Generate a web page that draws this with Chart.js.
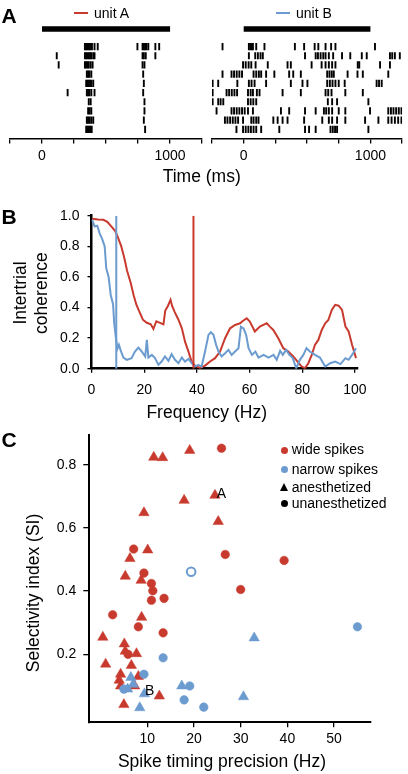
<!DOCTYPE html>
<html>
<head>
<meta charset="utf-8">
<style>
  html, body { margin: 0; padding: 0; background: #fff; }
  #fig { position: relative; width: 408px; height: 774px; overflow: hidden;
         font-family: "Liberation Sans", Arial, sans-serif; color: #000; }
  #fig canvas { position: absolute; }
  .t { position: absolute; line-height: 1; white-space: nowrap; }
  .panel { font-weight: bold; font-size: 21px; }
  .rot { position: absolute; transform: rotate(-90deg); text-align: center; white-space: nowrap; }
  .mk { position: absolute; }
</style>
<script src="https://cdn.jsdelivr.net/npm/chart.js"></script>
</head>
<body>
<div id="fig">
  <canvas id="rasterA" width="208" height="170" style="left:0;top:0"></canvas>
  <canvas id="rasterB" width="204" height="170" style="left:204px;top:0"></canvas>
  <canvas id="cohChart" width="408" height="225" style="left:0;top:195px"></canvas>
  <canvas id="selChart" width="408" height="354" style="left:0;top:420px"></canvas>

  <div class="t panel" style="left:1.5px;top:5px">A</div>
  <div class="t panel" style="left:1.5px;top:205.5px">B</div>
  <div class="t panel" style="left:1.5px;top:429px">C</div>

  <div class="mk" style="left:74px;top:12.2px;width:14px;height:2px;background:#c93a2e"></div>
  <div class="t" style="left:94px;top:6px;font-size:14px">unit A</div>
  <div class="mk" style="left:276px;top:12.2px;width:14px;height:2px;background:#6b9bcf"></div>
  <div class="t" style="left:296px;top:6px;font-size:14px">unit B</div>
  <div class="t" style="left:162.7px;top:168.4px;font-size:17.5px">Time (ms)</div>

  <div class="rot" style="left:-49px;top:272px;width:160px;height:42px;line-height:21px;font-size:17.5px">Intertrial<br>coherence</div>
  <div class="t" style="left:106.7px;top:404.4px;width:200px;text-align:center;font-size:17.5px">Frequency (Hz)</div>

  <div class="rot" style="left:-77px;top:582.5px;width:220px;height:20px;line-height:20px;font-size:17.5px">Selectivity index (SI)</div>
  <div class="t" style="left:102px;top:752.7px;width:240px;text-align:center;font-size:17.5px">Spike timing precision (Hz)</div>

  <div class="mk" style="left:280.8px;top:446.5px;width:7px;height:7px;border-radius:50%;background:#c93a2e"></div>
  <div class="t" style="left:291.7px;top:442.4px;font-size:14px">wide spikes</div>
  <div class="mk" style="left:280.8px;top:466.2px;width:7px;height:7px;border-radius:50%;background:#6b9bcf"></div>
  <div class="t" style="left:291.7px;top:462.2px;font-size:14px">narrow spikes</div>
  <div class="mk" style="left:279.8px;top:482.5px;width:0;height:0;border-left:4.5px solid transparent;border-right:4.5px solid transparent;border-bottom:8px solid #000"></div>
  <div class="t" style="left:291.7px;top:479.9px;font-size:14px">anesthetized</div>
  <div class="mk" style="left:280.8px;top:499.5px;width:7px;height:7px;border-radius:50%;background:#000"></div>
  <div class="t" style="left:291.7px;top:495.5px;font-size:14px">unanesthetized</div>

  <div class="t" style="left:216.7px;top:485.9px;font-size:14px">A</div>
  <div class="t" style="left:145px;top:682.5px;font-size:14px">B</div>
</div>

<script>
  // colours
  var RED = '#c93a2e';
  var BLUE = '#6b9bcf';

  // ---- A: spike rasters (spike times in ms, one list per trial)
  var unitATrials = [
    [335, 345, 355, 365, 375, 390, 410, 435, 745, 785, 795, 805, 815, 830, 885, 915],
    [115, 335, 345, 355, 365, 375, 385, 400, 410, 785, 795, 810, 885],
    [130, 335, 345, 355, 365, 380, 395, 785, 800],
    [350, 360, 370, 385, 790],
    [345, 355, 365, 375, 385, 400, 795],
    [200, 350, 360, 370, 385, 410, 790],
    [365, 380, 800],
    [360, 372, 385, 800],
    [350, 360, 372, 385, 400, 795],
    [345, 355, 365, 375, 388, 805]
  ];
  var unitBTrials = [
    [-167, 41, 52, 63, 73, 99, 164, 404, 477, 560, 589, 646, 690, 724, 1036],
    [41, 91, 112, 133, 151, 484, 568, 586, 607, 628, 646, 672, 706, 776, 841, 932, 971, 1154, 1172, 1193, 1232],
    [-5, 16, 39, 60, 94, 190, 346, 372, 536, 615, 646, 672, 698, 724, 900, 912, 1076, 1154],
    [-167, -96, -76, -55, -34, -13, 78, 99, 120, 138, 177, 242, 359, 391, 451, 659, 677, 695, 711, 820, 898, 940, 1141],
    [-245, -201, -50, 41, 62, 86, 177, 372, 464, 503, 659, 680, 701, 724, 750, 797, 1049, 1068, 1089],
    [-245, -135, -115, -94, -73, -52, 34, 55, 73, 104, 125, 307, 451, 646, 667, 693, 802, 940],
    [-245, -201, -182, -161, 34, 55, 76, 99, 664, 698, 737, 984],
    [-214, -96, -76, -55, -34, -13, 8, 34, 73, 294, 359, 484, 568, 633, 651, 672, 698, 750, 802, 997, 1141, 1162, 1182, 1203, 1224, 1245],
    [-148, -128, -107, -86, -65, -44, -5, 60, 78, 99, 117, 234, 268, 307, 346, 477, 620, 672, 698, 737, 802, 958, 1063, 1141, 1167, 1193, 1219, 1245],
    [-57, -5, 16, 37, 57, 78, 99, 138, 281, 484, 516, 568, 685, 703, 721, 737, 984]
  ];
  var stimulus = [0, 1000];
  var timeTicks = [-250, 0, 250, 500, 750, 1000, 1250];
  var timeLabels = [0, 1000];

  // ---- B: intertrial coherence
  var redFreq = [0.2, 2.5, 4.5, 6.0, 7.5, 9.0, 10.0, 11.3, 12.5, 13.5, 14.9, 16.0, 17.0, 18.0, 19.5, 21.0, 22.5, 23.5, 24.6, 26.0,
    27.3, 28.0, 29.0, 30.0, 30.6, 31.6, 33.0, 34.3, 35.5, 36.8, 38.0, 39.3, 41.2, 43.1, 45.0, 46.9, 48.8, 50.7, 52.6, 54.5,
    56.4, 57.4, 58.9, 60.1, 62.0, 63.9, 65.2, 66.5, 67.7, 69.0, 70.9, 72.8, 74.7, 76.6, 78.5, 79.8, 81.0, 82.3, 83.6, 84.8,
    86.1, 87.4, 88.7, 89.9, 91.2, 92.5, 93.8, 95.1, 96.4, 97.6, 98.9, 100.4];
  var redCoh = [0.98, 0.975, 0.973, 0.96, 0.93, 0.90, 0.86, 0.80, 0.72, 0.64, 0.56, 0.48, 0.42, 0.38, 0.32, 0.30, 0.29, 0.26, 0.31, 0.30,
    0.29, 0.38, 0.41, 0.45, 0.41, 0.37, 0.32, 0.264, 0.177, 0.112, 0.046, 0.02, 0.005, 0.02, 0.047, 0.069, 0.112, 0.199, 0.264, 0.286,
    0.297, 0.312, 0.33, 0.308, 0.243, 0.275, 0.286, 0.297, 0.275, 0.253, 0.199, 0.134, 0.112, 0.08, 0.04, 0.014, 0.003, 0.036, 0.09, 0.156,
    0.188, 0.253, 0.297, 0.318, 0.384, 0.417, 0.412, 0.384, 0.275, 0.243, 0.156, 0.069];
  var blueFreq = [0.2, 1.2, 2.2, 3.1, 4.0, 5.0, 5.6, 6.5, 7.3, 8.2, 8.6, 9.2, 9.8, 10.4, 11.0, 12.1, 13.4, 15.2, 16.5, 17.8,
    19.1, 20.4, 21.0, 21.6, 22.9, 24.1, 25.4, 26.6, 27.9, 29.2, 30.4, 31.7, 33.0, 34.3, 35.5, 36.8, 38.0, 39.3, 40.6, 41.8,
    43.1, 44.4, 45.3, 46.3, 47.3, 48.2, 49.4, 50.7, 52.0, 53.2, 54.5, 55.8, 56.7, 57.7, 58.7, 59.6, 60.9, 62.2, 63.4, 65.3,
    67.2, 69.1, 70.3, 71.6, 72.6, 73.9, 75.1, 76.4, 77.7, 79.1, 80.4, 81.6, 82.9, 84.8, 86.7, 88.7, 90.6, 92.5, 94.5, 96.4,
    97.6, 98.9, 100.4];
  var blueCoh = [0.975, 0.93, 0.935, 0.885, 0.85, 0.80, 0.656, 0.60, 0.482, 0.42, 0.30, 0.21, 0.13, 0.156, 0.123, 0.073, 0.058, 0.069, 0.112, 0.138,
    0.112, 0.08, 0.188, 0.073, 0.09, 0.069, 0.025, 0.047, 0.08, 0.051, 0.095, 0.058, 0.036, 0.073, 0.047, 0.064, 0.036, 0.014, 0.025, 0.014,
    0.112, 0.221, 0.238, 0.221, 0.156, 0.112, 0.08, 0.101, 0.123, 0.09, 0.112, 0.134, 0.275, 0.264, 0.221, 0.134, 0.09, 0.112, 0.073, 0.09,
    0.073, 0.09, 0.058, 0.117, 0.09, 0.123, 0.09, 0.069, 0.003, 0.058, 0.09, 0.134, 0.112, 0.09, 0.073, 0.014, 0.036, 0.047, 0.03, 0.069,
    0.058, 0.09, 0.134];
  var redPrecision = 38.7;   // vertical markers (Hz)
  var bluePrecision = 9.4;
  var freqTicks = [0, 20, 40, 60, 80, 100];
  var cohTicks = [0, 0.2, 0.4, 0.6, 0.8, 1.0];

  // ---- C: selectivity vs spike timing precision
  var wideUnanesX = [25.9, 7.1, 26.7, 39.3, 9.3, 10.9, 11.2, 10.9, 13.6, 30.0, 2.6, 8.1, 13.4, 5.9];
  var wideUnanesY = [0.852, 0.533, 0.516, 0.497, 0.457, 0.424, 0.401, 0.371, 0.377, 0.405, 0.325, 0.287, 0.268, 0.2];
  var wideAnesX = [11.4, 13.3, 19.1, 17.9, 24.5, 25.2, 9.3, 6.3, 10.1, 5.3, 8.7, 8.8, 0.5, 1.1, 5.1, 5.3, 7.7, 6.6, 4.3, 4.0, 4.3, 8.1, 7.3, 12.6, 5.0];
  var wideAnesY = [0.823, 0.822, 0.845, 0.687, 0.703, 0.62, 0.648, 0.503, 0.53, 0.447, 0.434, 0.317, 0.254, 0.169, 0.233, 0.21, 0.202, 0.165, 0.137, 0.118, 0.1, 0.13, 0.1, 0.068, 0.041];
  var narrowUnanesX = [13.4, 9.3, 19.1, 17.9, 22.1, 55.0, 5.0];
  var narrowUnanesY = [0.189, 0.137, 0.1, 0.056, 0.033, 0.287, 0.09];
  var narrowAnesX = [32.9, 30.6, 17.4, 8.4, 6.5, 5.8, 9.4, 7.0];
  var narrowAnesY = [0.252, 0.066, 0.1, 0.031, 0.127, 0.09, 0.075, 0.105];
  var openX = [19.4];
  var openY = [0.461];
  var precTicks = [10, 20, 30, 40, 50];
  var siTicks = [0.2, 0.4, 0.6, 0.8];

  Chart.defaults.font.family = '"Liberation Sans", Arial, sans-serif';
  Chart.defaults.font.size = 14;
  Chart.defaults.color = '#000';

  function zip(xs, ys) {
    var out = [];
    for (var i = 0; i < Math.min(xs.length, ys.length); i++) out.push({x: xs[i], y: ys[i]});
    return out;
  }

  function rasterChart(id, trials, padL, padR) {
    var pts = [];
    trials.forEach(function (row, i) {
      row.forEach(function (t) { pts.push({x: t, y: i + 1}); });
    });
    return new Chart(document.getElementById(id), {
      type: 'scatter',
      data: {
        datasets: [
          { data: pts, pointStyle: 'line', pointRotation: 90, pointRadius: 3.6,
            pointBorderColor: '#000', pointBorderWidth: 1.9 },
          { type: 'line', showLine: true, data: [{x: stimulus[0], y: -0.9}, {x: stimulus[1], y: -0.9}],
            borderColor: '#000', borderWidth: 5.5, pointRadius: 0 }
        ]
      },
      options: {
        responsive: false, animation: false, events: [],
        layout: { padding: { left: padL, right: padR, top: 19, bottom: 7.5 } },
        plugins: { legend: { display: false }, tooltip: { enabled: false } },
        scales: {
          x: {
            type: 'linear', min: -250, max: 1250,
            afterBuildTicks: function (s) { s.ticks = timeTicks.map(function (v) { return {value: v}; }); },
            afterFit: function (s) { s.height = 24; },
            ticks: { autoSkip: false, maxRotation: 0, padding: 4,
                     callback: function (v) { return timeLabels.indexOf(v) >= 0 ? String(v) : ''; } },
            grid: { display: true, drawOnChartArea: false, drawTicks: true, tickLength: 5, color: '#000', lineWidth: 1.3 },
            border: { display: true, color: '#000', width: 1.5 }
          },
          y: { display: false, reverse: true, min: -2, max: 11 }
        }
      }
    });
  }

  rasterChart('rasterA', unitATrials, 10, 5);
  rasterChart('rasterB', unitBTrials, 8, 0);

  new Chart(document.getElementById('cohChart'), {
    type: 'scatter',
    data: {
      datasets: [
        { data: [{x: bluePrecision, y: 0}, {x: bluePrecision, y: 1}], showLine: true, borderColor: BLUE, borderWidth: 2, pointRadius: 0 },
        { data: [{x: redPrecision, y: 0}, {x: redPrecision, y: 1}], showLine: true, borderColor: RED, borderWidth: 2, pointRadius: 0 },
        { data: zip(blueFreq, blueCoh), showLine: true, borderColor: BLUE, borderWidth: 2, pointRadius: 0 },
        { data: zip(redFreq, redCoh), showLine: true, borderColor: RED, borderWidth: 2, pointRadius: 0 }
      ]
    },
    options: {
      responsive: false, animation: false, events: [],
      layout: { padding: { left: 0, right: 50.4, top: 20.7, bottom: 21.3 } },
      plugins: { legend: { display: false }, tooltip: { enabled: false } },
      scales: {
        x: {
          type: 'linear', min: 0, max: 101,
          afterBuildTicks: function (s) { s.ticks = freqTicks.map(function (v) { return {value: v}; }); },
          afterFit: function (s) { s.height = 30; },
          ticks: { autoSkip: false, maxRotation: 0, padding: 9 },
          grid: { display: true, drawOnChartArea: false, tickLength: 4, color: '#000', lineWidth: 1.3 },
          border: { display: true, color: '#000', width: 2.5 }
        },
        y: {
          type: 'linear', min: 0, max: 1,
          afterBuildTicks: function (s) { s.ticks = cohTicks.map(function (v) { return {value: v}; }); },
          afterFit: function (s) { s.width = 91.5; },
          ticks: { padding: 8, callback: function (v) { return v.toFixed(1); } },
          grid: { display: true, drawOnChartArea: false, tickLength: 4, color: '#000', lineWidth: 1.3 },
          border: { display: true, color: '#000', width: 2.5 }
        }
      }
    }
  });

  new Chart(document.getElementById('selChart'), {
    type: 'scatter',
    data: {
      datasets: [
        { data: zip(openX, openY), pointStyle: 'circle', pointRadius: 4.3,
          pointBackgroundColor: '#fff', pointBorderColor: BLUE, pointBorderWidth: 2 },
        { data: zip(narrowUnanesX, narrowUnanesY), pointStyle: 'circle', pointRadius: 4.3,
          pointBackgroundColor: BLUE, pointBorderColor: BLUE, pointBorderWidth: 0.5 },
        { data: zip(narrowAnesX, narrowAnesY), pointStyle: 'triangle', pointRadius: 6,
          pointBackgroundColor: BLUE, pointBorderColor: BLUE, pointBorderWidth: 0.5 },
        { data: zip(wideUnanesX, wideUnanesY), pointStyle: 'circle', pointRadius: 4.3,
          pointBackgroundColor: RED, pointBorderColor: RED, pointBorderWidth: 0.5 },
        { data: zip(wideAnesX, wideAnesY), pointStyle: 'triangle', pointRadius: 6,
          pointBackgroundColor: RED, pointBorderColor: RED, pointBorderWidth: 0.5 }
      ]
    },
    options: {
      responsive: false, animation: false, events: [],
      layout: { padding: { left: 0, right: 37, top: 11.7, bottom: 23.7 } },
      plugins: { legend: { display: false }, tooltip: { enabled: false } },
      scales: {
        x: {
          type: 'linear', min: -2.4, max: 57.9,
          afterBuildTicks: function (s) { s.ticks = precTicks.map(function (v) { return {value: v}; }); },
          afterFit: function (s) { s.height = 28; },
          ticks: { autoSkip: false, maxRotation: 0, padding: 3 },
          grid: { display: true, drawOnChartArea: false, tickLength: 5, color: '#000', lineWidth: 1.3 },
          border: { display: true, color: '#000', width: 2 }
        },
        y: {
          type: 'linear', min: -0.015, max: 0.8925,
          afterBuildTicks: function (s) { s.ticks = siTicks.map(function (v) { return {value: v}; }); },
          afterFit: function (s) { s.width = 89.3; },
          ticks: { padding: 7, callback: function (v) { return v.toFixed(1); } },
          grid: { display: true, drawOnChartArea: false, tickLength: 6, color: '#000', lineWidth: 1.3 },
          border: { display: true, color: '#000', width: 2 }
        }
      }
    }
  });
</script>
</body>
</html>
